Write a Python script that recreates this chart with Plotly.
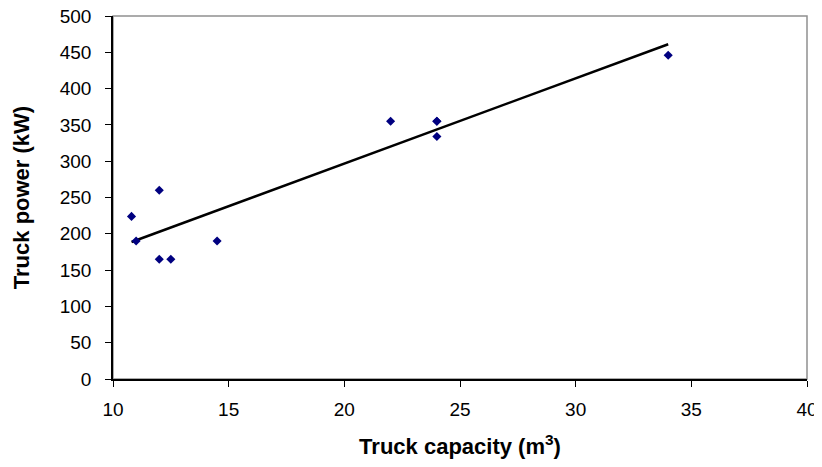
import numpy as np
import plotly.graph_objects as go

capacity = [10.8, 11, 12, 12, 12.5, 14.5, 22, 24, 24, 24, 34]
power = [224, 190, 260, 165, 165, 190, 355, 355, 355, 334, 446]

x_ticks = [10, 15, 20, 25, 30, 35, 40]
y_ticks = [0, 50, 100, 150, 200, 250, 300, 350, 400, 450, 500]

slope, intercept = np.polyfit(capacity, power, 1)
trend_x = [min(capacity), max(capacity)]
trend_y = [slope * v + intercept for v in trend_x]

fig = go.Figure()
fig.add_trace(go.Scatter(x=trend_x, y=trend_y, mode="lines",
                         line=dict(color="black", width=2.5), hoverinfo="skip"))
fig.add_trace(go.Scatter(x=capacity, y=power, mode="markers",
                         marker=dict(symbol="diamond", size=7, color="#000080")))

font_family = "Liberation Sans, Arial, sans-serif"
# page body has an 8px default margin, so the figure is placed at (8, 8)
fig.update_layout(
    width=814, height=451,
    margin=dict(l=105, r=15, t=8, b=80),
    paper_bgcolor="white", plot_bgcolor="white",
    showlegend=False,
    font=dict(family=font_family, color="black", size=19),
    shapes=[dict(type="rect", xref="paper", yref="paper", x0=0, y0=0, x1=1, y1=1,
                 line=dict(color="#909090", width=1.5), layer="below")],
)
fig.update_xaxes(
    range=[10, 40], tickvals=x_ticks, ticks="outside", ticklen=6, tickcolor="black",
    showline=True, linecolor="black", linewidth=1.5, showgrid=False, zeroline=False,
    tickfont=dict(size=19), ticklabelstandoff=6, automargin=False,
    ticklabeloverflow="allow",
    title=dict(text="Truck capacity (m<sup>3</sup>)",
               font=dict(size=22, weight="bold"), standoff=20),
)
fig.update_yaxes(
    range=[0, 500], tickvals=y_ticks, ticks="outside", ticklen=6, tickcolor="black",
    showline=True, linecolor="black", linewidth=1.5, showgrid=False, zeroline=False,
    tickfont=dict(size=19), ticklabelstandoff=10, automargin=False,
    ticklabeloverflow="allow",
    title=dict(text="Truck power (kW)", font=dict(size=22, weight="bold"), standoff=24),
)
fig.write_html("out.html")
